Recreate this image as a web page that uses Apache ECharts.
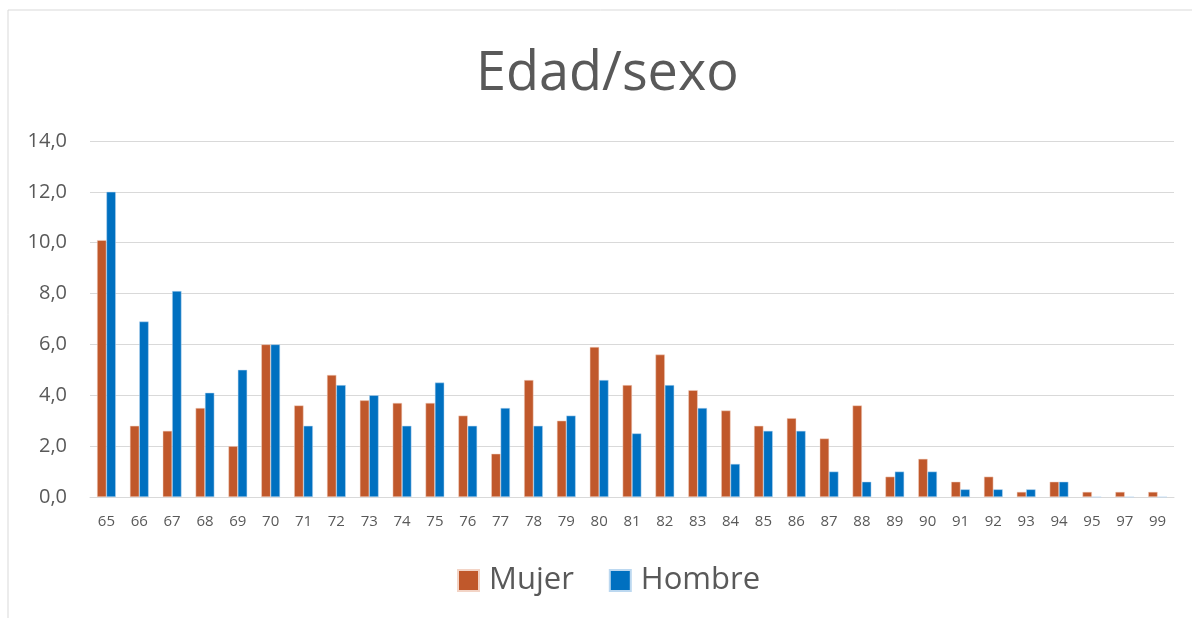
<!DOCTYPE html>
<html>
<head>
<meta charset="utf-8">
<script src="https://cdn.jsdelivr.net/npm/echarts@6/dist/echarts.min.js"></script>
<style>
  html, body { margin: 0; padding: 0; background: #fff; }
  #chart { width: 1192px; height: 618px; }
</style>
</head>
<body>
<div id="chart"></div>
<script>
// edades y porcentajes
var edades = ['65','66','67','68','69','70','71','72','73','74','75','76','77','78','79','80','81','82','83','84','85','86','87','88','89','90','91','92','93','94','95','97','99'];
var mujer = [10.1, 2.8, 2.6, 3.5, 2.0, 6.0, 3.6, 4.8, 3.8, 3.7, 3.7, 3.2, 1.7, 4.6, 3.0, 5.9, 4.4, 5.6, 4.2, 3.4, 2.8, 3.1, 2.3, 3.6, 0.8, 1.5, 0.6, 0.8, 0.2, 0.6, 0.2, 0.2, 0.2];
var hombre = [12.0, 6.9, 8.1, 4.1, 5.0, 6.0, 2.8, 4.4, 4.0, 2.8, 4.5, 2.8, 3.5, 2.8, 3.2, 4.6, 2.5, 4.4, 3.5, 1.3, 2.6, 2.6, 1.0, 0.6, 1.0, 1.0, 0.3, 0.3, 0.3, 0.6, 0, 0, 0];

var myChart = echarts.init(document.getElementById('chart'));

var option = {
  animation: false,
  textStyle: { fontFamily: 'Open Sans' },
  title: {
    text: 'Edad/sexo',
    left: 471,
    top: 43,
    textStyle: { fontFamily: 'Open Sans', fontSize: 54, fontWeight: 'normal', color: '#595959' }
  },
  graphic: [{
    type: 'rect',
    shape: { x: 8, y: 10, width: 1200, height: 620 },
    style: { fill: 'none', stroke: '#d9d9d9', lineWidth: 1 },
    silent: true
  }],
  legend: {
    data: ['Mujer', 'Hombre'],
    top: 560,
    left: 452,
    itemWidth: 21,
    itemHeight: 21,
    itemGap: 35,
    icon: 'rect',
    textStyle: { fontSize: 31, color: '#595959', padding: [0, 0, 0, 5] }
  },
  grid: { left: 90, right: 18, top: 141, bottom: 121 },
  xAxis: {
    type: 'category',
    data: edades,
    axisTick: { show: false },
    axisLine: { lineStyle: { color: '#d9d9d9', width: 1 } },
    axisLabel: { fontSize: 15, color: '#595959', margin: 17 }
  },
  yAxis: {
    type: 'value',
    min: 0,
    max: 14,
    interval: 2,
    axisLine: { show: false },
    axisTick: { show: false },
    splitLine: { lineStyle: { color: '#d9d9d9', width: 1 } },
    axisLabel: {
      fontSize: 20,
      color: '#595959',
      margin: 23,
      formatter: function (v) { return v.toFixed(1).replace('.', ','); }
    }
  },
  series: [{
    name: 'Mujer',
    type: 'bar',
    data: mujer,
    barGap: 0,
    barCategoryGap: '43%',
    itemStyle: { color: '#C0582B', borderColor: '#f3d4c6', borderWidth: 0.5 }
  }, {
    name: 'Hombre',
    type: 'bar',
    data: hombre,
    itemStyle: { color: '#0070C0', borderColor: '#bcd8f0', borderWidth: 0.5 }
  }]
};

myChart.setOption(option);
</script>
</body>
</html>
